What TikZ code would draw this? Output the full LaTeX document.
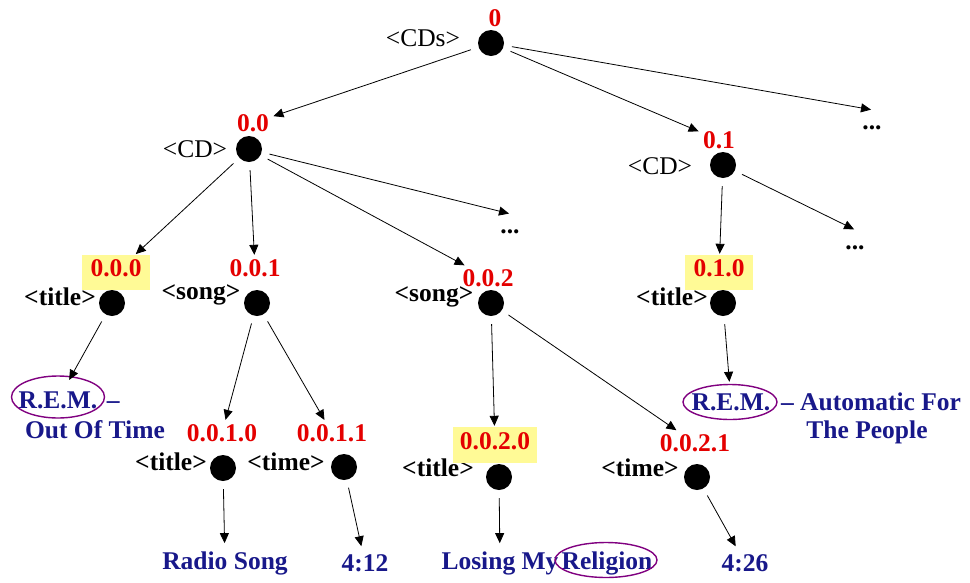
\documentclass[tikz,border=0pt]{standalone}
\usepackage{fontspec}
\setmainfont{Liberation Serif}
\usepackage{xcolor}
\usepackage{tikz}
\usetikzlibrary{positioning,arrows.meta}

\definecolor{numred}{RGB}{228,0,0}
\definecolor{leafblue}{RGB}{24,24,138}
\definecolor{ringpurple}{RGB}{128,0,128}
\definecolor{hilite}{RGB}{255,250,150}

\newcommand{\bigfont}{\fontsize{25.5}{30}\selectfont}

\begin{document}
\begin{tikzpicture}[x=1pt,y=-1pt,
  dot/.style={circle, fill=black, minimum size=26pt, inner sep=0pt},
  tag/.style={font=\bigfont\bfseries},
  cdtag/.style={font=\bigfont},
  num/.style={text=numred, font=\bigfont\bfseries},
  numhl/.style={num, fill=hilite, minimum width=68pt, minimum height=35pt, text depth=8pt},
  more/.style={font=\bigfont\bfseries, minimum height=36pt, inner sep=0pt},
  leaf/.style={text=leafblue, font=\bigfont\bfseries, inner ysep=7pt},
  band/.style={leaf, minimum width=93pt, minimum height=38pt, inner sep=0pt},
  ring/.style={draw=ringpurple, line width=1.4pt},
  link/.style={-{Triangle[length=10pt,width=9pt]}, line width=0.8pt, shorten <=8pt, shorten >=1pt}]

\path[use as bounding box, fill=white] (0,0) rectangle (970,582);

% root
\node[dot] (r) at (491,43) {};
\node[cdtag] (tr) at (423,38) {<CDs>};
\node[num] (nr) at (495,18) {0};
\node[more] (mA) at (872,128) {...};

% first CD
\node[dot] (d00) at (249,149) {};
\node[cdtag] (t00) at (195,149) {<CD>};
\node[num] (n00) at (253,123) {0.0};
\node[more] (mB) at (510,232) {...};

% second CD
\node[dot] (d01) at (723,165) {};
\node[cdtag] (t01) at (660,166) {<CD>};
\node[num] (n01) at (719,140) {0.1};
\node[more] (mC) at (855,248) {...};

% children of 0.0
\node[dot] (d000) at (112,303) {};
\node[tag] (t000) at (60,297) {<title>};
\node[numhl] (n000) at (116,272.5) {0.0.0};

\node[dot] (d001) at (257,303) {};
\node[tag] (t001) at (201,295) {<song>};
\node[num] (n001) at (255,268) {0.0.1};

\node[dot] (d002) at (491,303) {};
\node[tag] (t002) at (434,297) {<song>};
\node[num] (n002) at (488,278) {0.0.2};

% child of 0.1
\node[dot] (d010) at (723,303) {};
\node[tag] (t010) at (672,297) {<title>};
\node[numhl] (n010) at (719,272.5) {0.1.0};

% children of the songs
\node[dot] (d0010) at (223,468) {};
\node[tag] (t0010) at (171,462) {<title>};
\node[num] (n0010) at (222,433) {0.0.1.0};

\node[dot] (d0011) at (344,467) {};
\node[tag] (t0011) at (286,462) {<time>};
\node[num] (n0011) at (332,433) {0.0.1.1};

\node[dot] (d0020) at (499,477) {};
\node[tag] (t0020) at (438,468) {<title>};
\node[numhl, minimum width=84pt, minimum height=36pt] (n0020) at (495,445) {0.0.2.0};

\node[dot] (d0021) at (697,477) {};
\node[tag] (t0021) at (640,468) {<time>};
\node[num] (n0021) at (695,443) {0.0.2.1};

% text values
\node[band] (remL) at (58,400) {R.E.M.};
\draw[ring] (58,397) ellipse [x radius=46.5pt, y radius=21pt];
\node[leaf, inner sep=2pt, anchor=base west] (dashL) at (remL.base east) {–};
\node[leaf, inner ysep=0pt] (albL) at (95,430) {Out Of Time};

\coordinate (rcol) at (871,0);
\node[band] (remR) at (731,402) {R.E.M.};
\draw[ring] (730,402) ellipse [x radius=47pt, y radius=17.5pt];
\node[leaf, inner sep=0pt, anchor=base] (albR) at (remR.base -| rcol) {– Automatic For};
\node[leaf, inner ysep=0pt] (albR2) at (867,432) {The People};

\node[leaf] (radio) at (225,563) {Radio Song};
\node[leaf] (len1) at (365,563) {4:12};
\node[leaf] (losing) at (500,563) {Losing My};
\node[leaf] (relig) at (607,563) {Religion};
\draw[ring] (606,560) ellipse [x radius=51pt, y radius=17.5pt];
\node[leaf] (len2) at (745,563) {4:26};

% edges
\draw[link] (r) -- (n00);
\draw[link] (r) -- (n01);
\draw[link] (r) -- (mA.north);

\draw[link] (d00) -- (n000);
\draw[link] (d00) -- (n001);
\draw[link] (d00) -- (n002);
\draw[link] (d00) -- (mB.north);

\draw[link] (d01) -- (n010);
\draw[link] (d01) -- (mC.north);

\draw[link] (d001) -- (n0010);
\draw[link] (d001) -- (n0011);
\draw[link] (d002) -- (n0020);
\draw[link] (d002) -- (n0021);

\draw[link] (d000) -- (remL);
\draw[link] (d010) -- (remR);
\draw[link] (d0010) -- (radio);
\draw[link] (d0011) -- (len1);
\draw[link] (d0020) -- (losing);
\draw[link] (d0021) -- (len2);
\end{tikzpicture}
\end{document}
